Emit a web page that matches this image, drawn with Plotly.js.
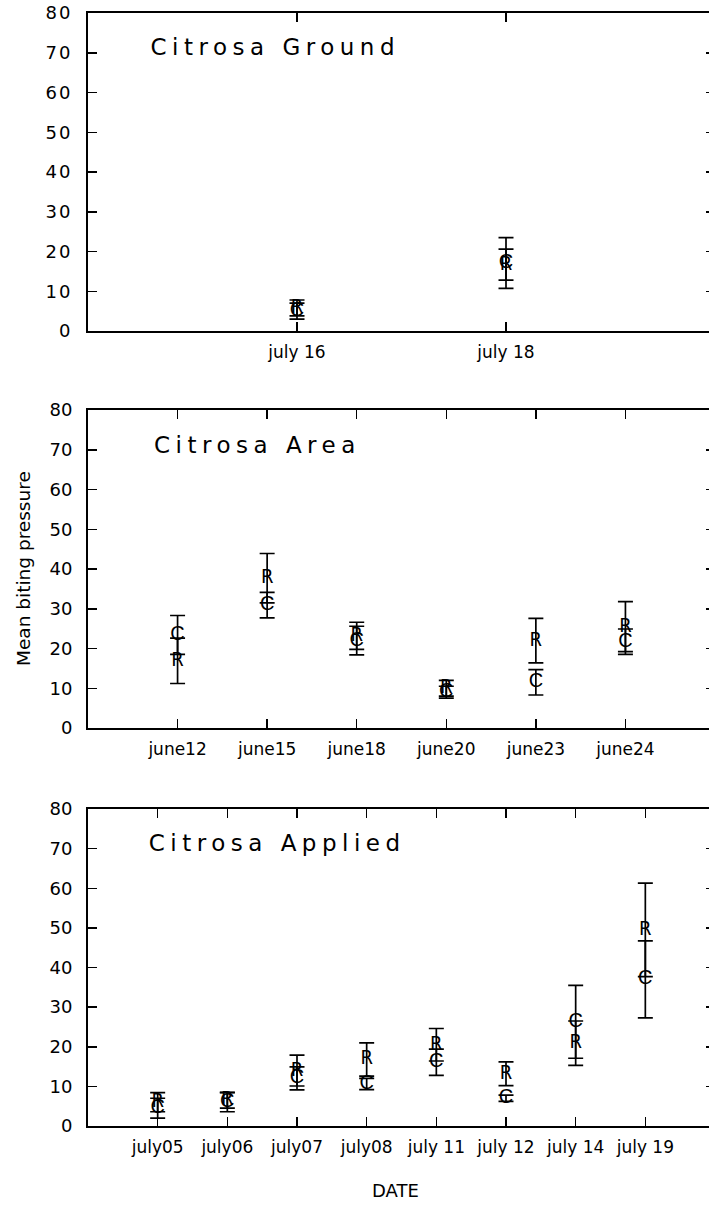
<!DOCTYPE html>
<html>
<head>
<meta charset="utf-8">
<script src="https://cdn.plot.ly/plotly-3.0.1.min.js"></script>
<style>
  html, body { margin: 0; padding: 0; background: #fff; overflow: hidden; }
  #chart { width: 716px; height: 1205px; }
</style>
</head>
<body>
<div id="chart"></div>
<script>
// ---- Data ----
const groundDates = ['july 16', 'july 18'];
const groundC = [5.0, 17.1];
const groundCErr = [2.0, 6.4];
const groundR = [5.8, 16.7];
const groundRErr = [2.0, 3.9];

const areaDates = ['june12', 'june15', 'june18', 'june20', 'june23', 'june24'];
const areaC = [23.4, 30.9, 22.0, 9.0, 11.5, 21.7];
const areaCErr = [4.9, 3.2, 3.6, 1.5, 3.2, 3.2];
const areaR = [16.9, 37.7, 23.2, 10.0, 22.0, 25.5];
const areaRErr = [5.7, 6.2, 3.4, 2.0, 5.6, 6.3];

const appliedDates = ['july05', 'july06', 'july07', 'july08', 'july 11', 'july 12', 'july 14', 'july 19'];
const appliedC = [4.5, 6.0, 12.0, 10.6, 16.1, 7.0, 26.3, 37.0];
const appliedCErr = [2.5, 2.4, 2.9, 1.4, 3.3, 0.8, 9.2, 9.7];
const appliedR = [6.0, 6.5, 14.0, 16.8, 20.5, 13.2, 20.9, 49.5];
const appliedRErr = [2.4, 2.0, 3.9, 4.2, 4.1, 3.0, 5.6, 11.8];

const panelTitles = ['Citrosa Ground', 'Citrosa Area', 'Citrosa Applied'];
const yTickVals = [0, 10, 20, 30, 40, 50, 60, 70, 80];

// ---- Styling ----
const BLACK = '#000';
const FONT = 'DejaVu Sans, Liberation Sans, Arial, sans-serif';
const C_FONT = 'Liberation Sans, Arial, sans-serif';
const R_FONT = 'Liberation Sans Narrow, DejaVu Sans Condensed, Liberation Sans, sans-serif';

function series(dates, vals, errs, letter, xa, ya, family) {
  return {
    type: 'scatter',
    mode: 'markers+text',
    x: dates, y: vals,
    xaxis: xa, yaxis: ya,
    text: dates.map(() => letter),
    textposition: 'middle center',
    textfont: { family: family, size: 20, color: BLACK },
    marker: { size: 2, color: 'rgba(0,0,0,0)' },
    error_y: { type: 'data', array: errs, visible: true, color: BLACK, thickness: 1.7, width: 7.5 },
    showlegend: false,
    cliponaxis: false,
    hoverinfo: 'skip'
  };
}

const data = [
  series(groundDates, groundC, groundCErr, 'C', 'x', 'y', C_FONT),
  series(groundDates, groundR, groundRErr, 'R', 'x', 'y', R_FONT),
  series(areaDates, areaC, areaCErr, 'C', 'x2', 'y2', C_FONT),
  series(areaDates, areaR, areaRErr, 'R', 'x2', 'y2', R_FONT),
  series(appliedDates, appliedC, appliedCErr, 'C', 'x3', 'y3', C_FONT),
  series(appliedDates, appliedR, appliedRErr, 'R', 'x3', 'y3', R_FONT)
];

function xAxis(n, anchor) {
  return {
    type: 'category',
    range: [-1, n],
    domain: [0, 1],
    anchor: anchor,
    showline: true, linecolor: BLACK, linewidth: 2,
    mirror: 'ticks',
    ticks: 'inside', ticklen: 9, tickwidth: 1.5, tickcolor: BLACK,
    showgrid: false, zeroline: false,
    tickfont: { family: FONT, size: 17, color: BLACK },
    ticklabelstandoff: 5,
    fixedrange: true
  };
}
function yAxis(domain, anchor) {
  return {
    range: [0, 80],
    domain: domain,
    anchor: anchor,
    tickmode: 'array', tickvals: yTickVals, ticktext: yTickVals.map(String),
    showline: true, linecolor: BLACK, linewidth: 2,
    mirror: 'ticks',
    ticks: 'inside', ticklen: 9, tickwidth: 1.5, tickcolor: BLACK,
    showgrid: false, zeroline: false,
    tickfont: { family: FONT, size: 18, color: BLACK },
    ticklabelstandoff: 10,
    fixedrange: true
  };
}

const H = 1205, PL = 88, PW = 627;
const px2py = p => 1 - p / H;
const px2px = p => (p - PL) / PW;
const titleFont = { family: FONT, size: 23, color: BLACK };

const layout = {
  width: 716, height: H,
  margin: { l: PL, r: 1, t: 0, b: 0 },
  paper_bgcolor: '#fff', plot_bgcolor: '#fff',
  showlegend: false,
  xaxis: xAxis(groundDates.length, 'y'),
  yaxis: yAxis([px2py(331), px2py(13)], 'x'),
  xaxis2: xAxis(areaDates.length, 'y2'),
  yaxis2: yAxis([px2py(728), px2py(410)], 'x2'),
  xaxis3: xAxis(appliedDates.length, 'y3'),
  yaxis3: yAxis([px2py(1126), px2py(809)], 'x3'),
  annotations: [
    { text: panelTitles[0], xref: 'paper', yref: 'paper', x: px2px(275), y: px2py(47), xanchor: 'center', yanchor: 'middle', showarrow: false, font: titleFont },
    { text: panelTitles[1], xref: 'paper', yref: 'paper', x: px2px(257), y: px2py(445), xanchor: 'center', yanchor: 'middle', showarrow: false, font: titleFont },
    { text: panelTitles[2], xref: 'paper', yref: 'paper', x: px2px(277), y: px2py(843), xanchor: 'center', yanchor: 'middle', showarrow: false, font: titleFont },
    { text: 'Mean biting pressure', xref: 'paper', yref: 'paper', x: px2px(23), y: px2py(569), xanchor: 'center', yanchor: 'middle', textangle: -90, showarrow: false, font: { family: FONT, size: 18.5, color: BLACK } },
    { text: 'DATE', xref: 'paper', yref: 'paper', x: px2px(395), y: px2py(1190), xanchor: 'center', yanchor: 'middle', showarrow: false, font: { family: FONT, size: 18, color: BLACK } }
  ]
};

Plotly.newPlot('chart', data, layout, { staticPlot: true, displayModeBar: false }).then(() => {
  document.querySelectorAll('.annotation-text').forEach(el => {
    if (el.textContent.indexOf('Citrosa') === 0) el.style.letterSpacing = '5.5px';
  });
  document.querySelectorAll('.ytick text').forEach(el => { el.style.letterSpacing = '2px'; });
});
</script>
</body>
</html>
